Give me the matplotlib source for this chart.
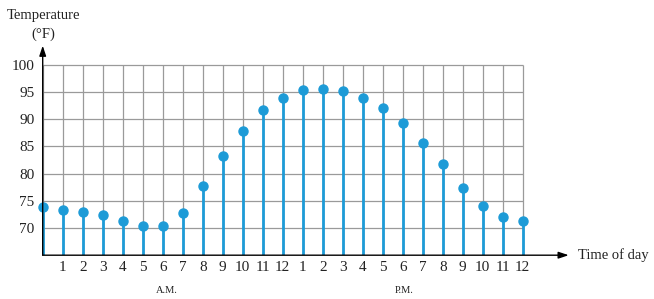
import matplotlib
matplotlib.use("Agg")
import matplotlib.pyplot as plt

hours = list(range(0, 25))
temps = [73.9, 73.3, 72.9, 72.4, 71.2, 70.3, 70.4, 72.8, 77.7, 83.3, 87.9, 91.6, 93.9,
         95.4, 95.6, 95.1, 93.8, 92.1, 89.2, 85.6, 81.7, 77.3, 74.1, 72.1, 71.3]
tick_labels = [str(h) for h in range(1, 13)] + [str(h) for h in range(1, 13)]
y_ticks = [70, 75, 80, 85, 90, 95, 100]

blue = "#1d9bd7"
grid_c = "#9a9a9a"

plt.rcParams['font.family'] = ['Liberation Serif', 'DejaVu Serif']

fig = plt.figure(figsize=(6.54, 2.99), dpi=100)
ax = fig.add_axes([0.0653, 0.1465, 0.8104, 0.7008])
ax.set_xlim(0, 26.5)
ax.set_ylim(65, 103.5)
for s in ax.spines.values():
    s.set_visible(False)

# grid
ax.vlines(hours, 65, 100, color=grid_c, lw=0.9, zorder=1)
ax.hlines(y_ticks, 0, 24, color=grid_c, lw=0.9, zorder=1)

# stems and markers
ax.vlines(hours, 65, temps, color=blue, lw=2.0, zorder=3)
ax.plot(hours, temps, 'o', color=blue, ms=6.5, zorder=4, clip_on=False)

# axes arrows
ax.annotate("", xy=(0, 103.5), xytext=(0, 65),
            arrowprops=dict(arrowstyle="-|>,head_length=0.6,head_width=0.2", color="black", lw=1.0,
                            shrinkA=0, shrinkB=0), annotation_clip=False, zorder=5)
ax.annotate("", xy=(26.3, 65), xytext=(0, 65),
            arrowprops=dict(arrowstyle="-|>,head_length=0.6,head_width=0.2", color="black", lw=1.0,
                            shrinkA=0, shrinkB=0), annotation_clip=False, zorder=5)

ax.set_xticks(range(1, 25))
ax.set_xticklabels(tick_labels)
ax.set_yticks(y_ticks)
ax.set_yticklabels([str(v) for v in y_ticks])
ax.tick_params(axis='both', length=0, labelsize=11, colors="#222222")
ax.tick_params(axis='x', pad=4)
ax.tick_params(axis='y', pad=6)

ax.text(6.2, 58.6, "A.M.", ha='center', va='center', fontsize=7.5, color="#222222")
ax.text(18.05, 58.6, "P.M.", ha='center', va='center', fontsize=7.5, color="#222222")
ax.text(26.75, 65, "Time of day", ha='left', va='center', fontsize=10.5, color="#222222")

fig.text(44 / 654, 1 - 15 / 299, "Temperature", ha='center', va='center', fontsize=10.5, color="#222222")
fig.text(43 / 654, 1 - 34 / 299, "(°F)", ha='center', va='center', fontsize=10.5, color="#222222")

fig.savefig("out.png", dpi=100)
